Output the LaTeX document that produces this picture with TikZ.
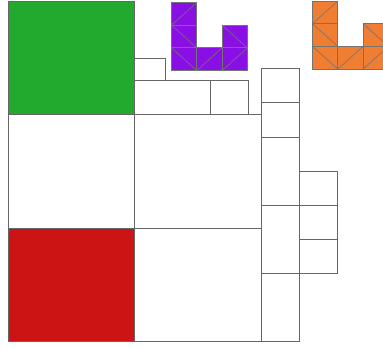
\documentclass[tikz,border=0pt]{standalone}
\usepackage{xcolor}
\usepackage{tikz}
\usetikzlibrary{positioning,calc}

\definecolor{boxgreen}{RGB}{34,170,46}
\definecolor{boxred}{RGB}{204,20,20}
\definecolor{boxpurple}{RGB}{138,15,228}
\definecolor{boxorange}{RGB}{240,126,50}

\begin{document}
\begin{tikzpicture}[
        x=1pt, y=-1pt,
        bin/.style={draw=black!60, line width=0.8pt},
        piece/.style={draw=black!55, line width=0.8pt},
        cut/.style={draw=black!55, line width=0.6pt}
    ]

    \useasboundingbox (0,0) rectangle (383,347);
    \clip (0,0) rectangle (383,347);

    % Left column
    \draw[bin, fill=boxgreen] (8,1) rectangle (134,114);
    \draw[bin] (8,114) rectangle (134,228);
    \draw[bin, fill=boxred] (8,228) rectangle (134,341);

    % Second column
    \draw[bin] (134,58) rectangle (165,80);
    \draw[bin] (134,80) rectangle (210,114);
    \draw[bin] (210,80) rectangle (248,114);
    \draw[bin] (134,114) rectangle (261,228);
    \draw[bin] (134,228) rectangle (261,341);

    % Third column
    \foreach \ya/\yb in {68/102,102/137,137/205,205/273,273/341}
        \draw[bin] (261,\ya) rectangle (299,\yb);

    % Fourth column
    \foreach \ya/\yb in {171/205,205/239,239/273}
        \draw[bin] (299,\ya) rectangle (337,\yb);

    % L pieces
    \foreach \px/\py/\col in {171.5/2.5/boxpurple,312.5/1/boxorange}{
        \begin{scope}[shift={(\px,\py)}]
            \foreach \c/\r/\d in {0/0/1,0/1/0,0/2/0,1/2/1,2/1/0,2/2/1}{
                \draw[piece, fill=\col] (\c*25.3,\r*22.7) rectangle ({(\c+1)*25.3},{(\r+1)*22.7});
                \ifnum\d=1
                    \draw[cut] (\c*25.3,{(\r+1)*22.7}) -- ({(\c+1)*25.3},\r*22.7);
                \else
                    \draw[cut] (\c*25.3,\r*22.7) -- ({(\c+1)*25.3},{(\r+1)*22.7});
                \fi
            }
        \end{scope}
    }

\end{tikzpicture}
\end{document}
